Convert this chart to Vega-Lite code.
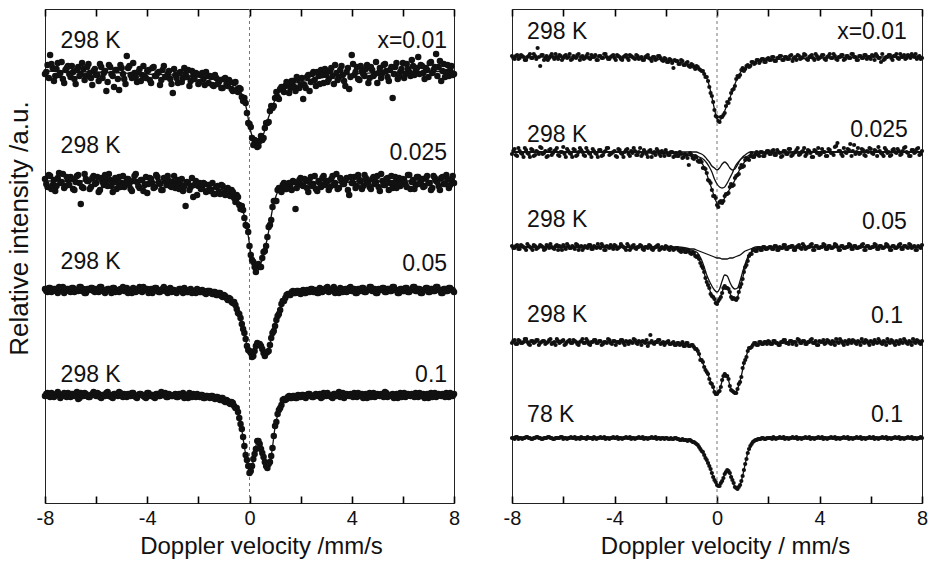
{
"$schema":"https://vega.github.io/schema/vega-lite/v6.json",
"padding":{"left":5,"top":7,"right":5,"bottom":4},
"bounds":"flush",
"spacing":58,
"config":{"view":{"stroke":"#222","strokeWidth":1},"font":"Liberation Sans","axis":{"labelFont":"Liberation Sans","titleFont":"Liberation Sans","labelColor":"#111","titleColor":"#111","titleFontWeight":"normal","grid":false,"domain":false}},
"datasets":{
"pts":[
{"v":-8.0,"a":429,"b":324,"c":214,"d":107,"e":447,"f":349,"g":257,"h":160,"i":65},
{"v":-7.9,"a":438,"b":316,"c":211,"d":110,"e":444,"f":354,"g":255,"h":163,"i":64},
{"v":-7.8,"a":448,"b":327,"c":215,"d":106,"e":448,"f":347,"g":258,"h":159,"i":66},
{"v":-7.7,"a":435,"b":318,"c":212,"d":109,"e":445,"f":352,"g":254,"h":162,"i":65},
{"v":-7.6,"a":427,"b":312,"c":214,"d":108,"e":447,"f":349,"g":257,"h":160,"i":64},
{"v":-7.5,"a":440,"b":325,"c":210,"d":111,"e":443,"f":355,"g":255,"h":164,"i":65},
{"v":-7.4,"a":430,"b":320,"c":213,"d":105,"e":446,"f":350,"g":259,"h":161,"i":66},
{"v":-7.3,"a":424,"b":329,"c":216,"d":108,"e":449,"f":346,"g":256,"h":158,"i":65},
{"v":-7.2,"a":433,"b":317,"c":212,"d":107,"e":445,"f":353,"g":253,"h":162,"i":64},
{"v":-7.1,"a":437,"b":323,"c":214,"d":110,"e":447,"f":348,"g":257,"h":161,"i":65},
{"v":-7.0,"a":426,"b":326,"c":211,"d":106,"e":455,"f":351,"g":255,"h":163,"i":66},
{"v":-6.9,"a":431,"b":314,"c":215,"d":109,"e":437,"f":356,"g":258,"h":160,"i":65},
{"v":-6.8,"a":419,"b":321,"c":213,"d":108,"e":448,"f":349,"g":256,"h":162,"i":64},
{"v":-6.7,"a":436,"b":328,"c":212,"d":104,"e":445,"f":352,"g":254,"h":159,"i":65},
{"v":-6.6,"a":429,"b":299,"c":216,"d":110,"e":443,"f":347,"g":257,"h":161,"i":66},
{"v":-6.5,"a":434,"b":315,"c":214,"d":107,"e":447,"f":354,"g":259,"h":164,"i":65},
{"v":-6.4,"a":427,"b":324,"c":210,"d":109,"e":446,"f":350,"g":255,"h":160,"i":64},
{"v":-6.3,"a":439,"b":322,"c":213,"d":106,"e":449,"f":353,"g":257,"h":158,"i":65},
{"v":-6.2,"a":425,"b":316,"c":215,"d":108,"e":444,"f":348,"g":253,"h":162,"i":65},
{"v":-6.1,"a":432,"b":327,"c":212,"d":111,"e":447,"f":351,"g":256,"h":161,"i":66},
{"v":-6.0,"a":428,"b":320,"c":214,"d":107,"e":445,"f":356,"g":258,"h":163,"i":64},
{"v":-5.9,"a":422,"b":311,"c":211,"d":109,"e":448,"f":346,"g":254,"h":159,"i":65},
{"v":-5.8,"a":436,"b":325,"c":216,"d":105,"e":446,"f":352,"g":257,"h":162,"i":65},
{"v":-5.7,"a":430,"b":318,"c":213,"d":108,"e":443,"f":349,"g":255,"h":160,"i":66},
{"v":-5.6,"a":412,"b":323,"c":212,"d":110,"e":447,"f":354,"g":256,"h":163,"i":65},
{"v":-5.5,"a":438,"b":329,"c":214,"d":107,"e":445,"f":347,"g":259,"h":161,"i":64},
{"v":-5.4,"a":429,"b":317,"c":210,"d":106,"e":449,"f":351,"g":253,"h":158,"i":65},
{"v":-5.3,"a":416,"b":321,"c":215,"d":109,"e":446,"f":353,"g":257,"h":162,"i":66},
{"v":-5.2,"a":433,"b":314,"c":213,"d":108,"e":444,"f":348,"g":255,"h":160,"i":65},
{"v":-5.1,"a":413,"b":326,"c":211,"d":111,"e":447,"f":355,"g":256,"h":164,"i":64},
{"v":-5.0,"a":435,"b":320,"c":214,"d":107,"e":445,"f":350,"g":258,"h":159,"i":65},
{"v":-4.9,"a":424,"b":316,"c":212,"d":109,"e":448,"f":346,"g":254,"h":161,"i":65},
{"v":-4.8,"a":447,"b":324,"c":215,"d":106,"e":446,"f":352,"g":257,"h":163,"i":66},
{"v":-4.7,"a":437,"b":319,"c":213,"d":108,"e":443,"f":349,"g":255,"h":160,"i":64},
{"v":-4.6,"a":425,"b":312,"c":210,"d":110,"e":447,"f":353,"g":256,"h":162,"i":65},
{"v":-4.5,"a":430,"b":327,"c":214,"d":107,"e":445,"f":347,"g":259,"h":158,"i":65},
{"v":-4.4,"a":421,"b":321,"c":212,"d":105,"e":449,"f":351,"g":253,"h":161,"i":66},
{"v":-4.3,"a":434,"b":315,"c":216,"d":109,"e":446,"f":355,"g":257,"h":160,"i":65},
{"v":-4.2,"a":428,"b":323,"c":211,"d":108,"e":444,"f":348,"g":255,"h":163,"i":64},
{"v":-4.1,"a":426,"b":318,"c":213,"d":106,"e":447,"f":350,"g":256,"h":159,"i":65},
{"v":-4.0,"a":432,"b":310,"c":214,"d":110,"e":445,"f":352,"g":258,"h":162,"i":65},
{"v":-3.9,"a":423,"b":325,"c":212,"d":107,"e":448,"f":346,"g":254,"h":161,"i":66},
{"v":-3.8,"a":435,"b":320,"c":210,"d":108,"e":446,"f":353,"g":256,"h":160,"i":65},
{"v":-3.7,"a":427,"b":316,"c":215,"d":105,"e":443,"f":349,"g":257,"h":163,"i":64},
{"v":-3.6,"a":430,"b":326,"c":213,"d":109,"e":447,"f":351,"g":255,"h":158,"i":65},
{"v":-3.5,"a":418,"b":319,"c":211,"d":107,"e":445,"f":354,"g":259,"h":161,"i":65},
{"v":-3.4,"a":433,"b":313,"c":214,"d":108,"e":448,"f":347,"g":253,"h":162,"i":66},
{"v":-3.3,"a":426,"b":322,"c":212,"d":110,"e":446,"f":350,"g":257,"h":160,"i":65},
{"v":-3.2,"a":429,"b":327,"c":210,"d":106,"e":444,"f":352,"g":255,"h":163,"i":64},
{"v":-3.1,"a":424,"b":317,"c":215,"d":108,"e":447,"f":348,"g":256,"h":159,"i":65},
{"v":-3.0,"a":410,"b":321,"c":213,"d":107,"e":445,"f":355,"g":258,"h":161,"i":65},
{"v":-2.9,"a":428,"b":315,"c":211,"d":109,"e":443,"f":349,"g":254,"h":162,"i":66},
{"v":-2.8,"a":420,"b":323,"c":212,"d":106,"e":446,"f":351,"g":256,"h":160,"i":65},
{"v":-2.7,"a":431,"b":318,"c":214,"d":108,"e":448,"f":346,"g":255,"h":157,"i":64},
{"v":-2.6,"a":425,"b":312,"c":210,"d":110,"e":444,"f":353,"g":257,"h":168,"i":65},
{"v":-2.5,"a":429,"b":297,"c":213,"d":107,"e":446,"f":350,"g":253,"h":160,"i":65},
{"v":-2.4,"a":433,"b":320,"c":211,"d":105,"e":443,"f":348,"g":256,"h":161,"i":66},
{"v":-2.3,"a":422,"b":316,"c":214,"d":108,"e":447,"f":352,"g":258,"h":163,"i":65},
{"v":-2.2,"a":427,"b":306,"c":212,"d":109,"e":445,"f":347,"g":254,"h":159,"i":64},
{"v":-2.1,"a":430,"b":322,"c":210,"d":106,"e":442,"f":350,"g":255,"h":161,"i":65},
{"v":-2.0,"a":419,"b":317,"c":213,"d":107,"e":444,"f":353,"g":257,"h":160,"i":65},
{"v":-1.9,"a":428,"b":314,"c":211,"d":108,"e":441,"f":348,"g":254,"h":162,"i":64},
{"v":-1.8,"a":424,"b":320,"c":212,"d":105,"e":443,"f":351,"g":256,"h":159,"i":65},
{"v":-1.7,"a":431,"b":311,"c":209,"d":107,"e":435,"f":346,"g":253,"h":161,"i":64},
{"v":-1.6,"a":420,"b":318,"c":212,"d":106,"e":442,"f":350,"g":255,"h":158,"i":65},
{"v":-1.5,"a":426,"b":313,"c":210,"d":107,"e":439,"f":347,"g":253,"h":160,"i":64},
{"v":-1.4,"a":417,"b":309,"c":211,"d":105,"e":443,"f":349,"g":251,"h":159,"i":63},
{"v":-1.3,"a":425,"b":316,"c":208,"d":106,"e":438,"f":346,"g":254,"h":157,"i":63},
{"v":-1.2,"a":421,"b":311,"c":210,"d":104,"e":440,"f":348,"g":251,"h":160,"i":63},
{"v":-1.1,"a":415,"b":318,"c":207,"d":105,"e":437,"f":338,"g":252,"h":157,"i":63},
{"v":-1.0,"a":424,"b":310,"c":208,"d":102,"e":439,"f":348,"g":249,"h":158,"i":62},
{"v":-0.9,"a":419,"b":314,"c":205,"d":103,"e":436,"f":344,"g":250,"h":156,"i":61},
{"v":-0.8,"a":423,"b":308,"c":205,"d":100,"e":437,"f":346,"g":246,"h":154,"i":59},
{"v":-0.7,"a":414,"b":313,"c":201,"d":101,"e":434,"f":341,"g":244,"h":149,"i":56},
{"v":-0.6,"a":420,"b":305,"c":201,"d":97,"e":432,"f":341,"g":237,"h":143,"i":52},
{"v":-0.5,"a":413,"b":308,"c":194,"d":95,"e":429,"f":335,"g":231,"h":136,"i":48},
{"v":-0.4,"a":415,"b":298,"c":189,"d":85,"e":426,"f":330,"g":221,"h":131,"i":43},
{"v":-0.3,"a":406,"b":297,"c":179,"d":74,"e":416,"f":322,"g":215,"h":124,"i":37},
{"v":-0.2,"a":405,"b":285,"c":170,"d":57,"e":407,"f":313,"g":207,"h":119,"i":30},
{"v":-0.1,"a":390,"b":277,"c":157,"d":43,"e":393,"f":307,"g":204,"h":111,"i":23},
{"v":0.0,"a":379,"b":257,"c":152,"d":30,"e":386,"f":298,"g":199,"h":109,"i":18},
{"v":0.1,"a":365,"b":243,"c":146,"d":37,"e":381,"f":301,"g":204,"h":112,"i":17},
{"v":0.2,"a":363,"b":236,"c":152,"d":49,"e":386,"f":300,"g":210,"h":123,"i":22},
{"v":0.3,"a":356,"b":238,"c":160,"d":62,"e":390,"f":307,"g":217,"h":129,"i":29},
{"v":0.4,"a":362,"b":236,"c":159,"d":59,"e":401,"f":309,"g":215,"h":127,"i":33},
{"v":0.5,"a":363,"b":245,"c":154,"d":50,"e":404,"f":316,"g":211,"h":117,"i":30},
{"v":0.6,"a":375,"b":252,"c":147,"d":41,"e":413,"f":317,"g":204,"h":112,"i":23},
{"v":0.7,"a":380,"b":266,"c":151,"d":35,"e":417,"f":325,"g":204,"h":110,"i":16},
{"v":0.8,"a":392,"b":278,"c":158,"d":41,"e":427,"f":328,"g":205,"h":114,"i":14},
{"v":0.9,"a":395,"b":296,"c":170,"d":55,"e":428,"f":335,"g":216,"h":121,"i":18},
{"v":1.0,"a":405,"b":302,"c":177,"d":77,"e":435,"f":336,"g":224,"h":135,"i":27},
{"v":1.1,"a":406,"b":313,"c":187,"d":89,"e":434,"f":343,"g":236,"h":143,"i":39},
{"v":1.2,"a":414,"b":313,"c":193,"d":95,"e":438,"f":344,"g":242,"h":152,"i":50},
{"v":1.3,"a":413,"b":318,"c":202,"d":103,"e":437,"f":347,"g":249,"h":155,"i":57},
{"v":1.4,"a":417,"b":314,"c":205,"d":103,"e":441,"f":346,"g":253,"h":158,"i":61},
{"v":1.5,"a":419,"b":319,"c":209,"d":106,"e":440,"f":349,"g":252,"h":160,"i":63},
{"v":1.6,"a":415,"b":316,"c":208,"d":105,"e":443,"f":348,"g":255,"h":158,"i":64},
{"v":1.7,"a":422,"b":322,"c":212,"d":107,"e":442,"f":351,"g":253,"h":161,"i":64},
{"v":1.8,"a":412,"b":294,"c":210,"d":105,"e":444,"f":347,"g":256,"h":159,"i":65},
{"v":1.9,"a":424,"b":320,"c":212,"d":108,"e":441,"f":350,"g":254,"h":161,"i":64},
{"v":2.0,"a":418,"b":325,"c":209,"d":106,"e":445,"f":352,"g":255,"h":162,"i":65},
{"v":2.1,"a":404,"b":317,"c":213,"d":108,"e":443,"f":349,"g":256,"h":159,"i":65},
{"v":2.2,"a":415,"b":323,"c":210,"d":105,"e":446,"f":353,"g":254,"h":162,"i":66},
{"v":2.3,"a":428,"b":311,"c":212,"d":109,"e":442,"f":348,"g":257,"h":160,"i":64},
{"v":2.4,"a":421,"b":326,"c":214,"d":107,"e":445,"f":351,"g":253,"h":158,"i":65},
{"v":2.5,"a":431,"b":319,"c":211,"d":106,"e":447,"f":346,"g":255,"h":161,"i":65},
{"v":2.6,"a":417,"b":314,"c":213,"d":109,"e":443,"f":352,"g":258,"h":163,"i":66},
{"v":2.7,"a":427,"b":322,"c":210,"d":108,"e":446,"f":349,"g":254,"h":160,"i":65},
{"v":2.8,"a":433,"b":316,"c":214,"d":105,"e":444,"f":354,"g":256,"h":159,"i":64},
{"v":2.9,"a":420,"b":327,"c":212,"d":110,"e":448,"f":347,"g":257,"h":162,"i":65},
{"v":3.0,"a":429,"b":321,"c":215,"d":107,"e":445,"f":350,"g":253,"h":161,"i":65},
{"v":3.1,"a":424,"b":313,"c":211,"d":108,"e":443,"f":353,"g":256,"h":158,"i":66},
{"v":3.2,"a":435,"b":324,"c":213,"d":106,"e":447,"f":348,"g":258,"h":163,"i":65},
{"v":3.3,"a":419,"b":318,"c":216,"d":109,"e":445,"f":351,"g":254,"h":160,"i":64},
{"v":3.4,"a":430,"b":329,"c":212,"d":107,"e":449,"f":355,"g":257,"h":162,"i":65},
{"v":3.5,"a":426,"b":315,"c":210,"d":111,"e":444,"f":349,"g":255,"h":159,"i":65},
{"v":3.6,"a":437,"b":322,"c":214,"d":108,"e":446,"f":352,"g":256,"h":161,"i":66},
{"v":3.7,"a":422,"b":319,"c":213,"d":105,"e":448,"f":346,"g":259,"h":164,"i":65},
{"v":3.8,"a":431,"b":325,"c":211,"d":109,"e":443,"f":353,"g":253,"h":160,"i":64},
{"v":3.9,"a":414,"b":308,"c":215,"d":107,"e":447,"f":350,"g":257,"h":158,"i":65},
{"v":4.0,"a":448,"b":320,"c":212,"d":108,"e":445,"f":348,"g":255,"h":162,"i":65},
{"v":4.1,"a":428,"b":326,"c":214,"d":110,"e":448,"f":354,"g":256,"h":161,"i":66},
{"v":4.2,"a":436,"b":317,"c":210,"d":106,"e":444,"f":351,"g":258,"h":159,"i":65},
{"v":4.3,"a":423,"b":323,"c":213,"d":108,"e":446,"f":347,"g":254,"h":163,"i":64},
{"v":4.4,"a":432,"b":314,"c":215,"d":109,"e":449,"f":353,"g":257,"h":160,"i":65},
{"v":4.5,"a":427,"b":328,"c":211,"d":107,"e":445,"f":350,"g":255,"h":162,"i":65},
{"v":4.6,"a":438,"b":321,"c":213,"d":105,"e":447,"f":356,"g":259,"h":158,"i":66},
{"v":4.7,"a":425,"b":316,"c":216,"d":110,"e":443,"f":360,"g":256,"h":161,"i":65},
{"v":4.8,"a":433,"b":324,"c":212,"d":108,"e":446,"f":352,"g":253,"h":164,"i":64},
{"v":4.9,"a":429,"b":319,"c":214,"d":106,"e":448,"f":347,"g":257,"h":160,"i":65},
{"v":5.0,"a":420,"b":327,"c":210,"d":109,"e":444,"f":351,"g":255,"h":162,"i":65},
{"v":5.1,"a":435,"b":312,"c":213,"d":107,"e":447,"f":354,"g":256,"h":159,"i":66},
{"v":5.2,"a":430,"b":322,"c":215,"d":108,"e":445,"f":359,"g":258,"h":161,"i":65},
{"v":5.3,"a":439,"b":318,"c":211,"d":111,"e":449,"f":352,"g":254,"h":163,"i":64},
{"v":5.4,"a":426,"b":325,"c":214,"d":106,"e":446,"f":349,"g":257,"h":160,"i":65},
{"v":5.5,"a":433,"b":320,"c":212,"d":108,"e":443,"f":355,"g":255,"h":162,"i":65},
{"v":5.6,"a":405,"b":315,"c":216,"d":109,"e":447,"f":350,"g":256,"h":158,"i":66},
{"v":5.7,"a":436,"b":326,"c":213,"d":107,"e":445,"f":353,"g":259,"h":161,"i":65},
{"v":5.8,"a":424,"b":321,"c":210,"d":105,"e":448,"f":347,"g":253,"h":163,"i":64},
{"v":5.9,"a":431,"b":317,"c":214,"d":110,"e":446,"f":351,"g":257,"h":160,"i":65},
{"v":6.0,"a":440,"b":324,"c":212,"d":108,"e":444,"f":354,"g":255,"h":162,"i":65},
{"v":6.1,"a":429,"b":319,"c":215,"d":106,"e":447,"f":349,"g":256,"h":159,"i":66},
{"v":6.2,"a":434,"b":328,"c":211,"d":109,"e":449,"f":352,"g":258,"h":161,"i":65},
{"v":6.3,"a":427,"b":314,"c":213,"d":107,"e":445,"f":356,"g":254,"h":164,"i":64},
{"v":6.4,"a":437,"b":323,"c":216,"d":108,"e":441,"f":350,"g":257,"h":160,"i":65},
{"v":6.5,"a":432,"b":318,"c":212,"d":110,"e":443,"f":347,"g":255,"h":162,"i":65},
{"v":6.6,"a":446,"b":326,"c":214,"d":106,"e":446,"f":353,"g":259,"h":158,"i":66},
{"v":6.7,"a":438,"b":321,"c":210,"d":108,"e":448,"f":351,"g":256,"h":161,"i":65},
{"v":6.8,"a":430,"b":316,"c":213,"d":109,"e":445,"f":348,"g":253,"h":163,"i":64},
{"v":6.9,"a":435,"b":325,"c":215,"d":107,"e":447,"f":354,"g":257,"h":160,"i":65},
{"v":7.0,"a":426,"b":320,"c":211,"d":105,"e":449,"f":350,"g":255,"h":162,"i":65},
{"v":7.1,"a":441,"b":313,"c":214,"d":110,"e":444,"f":352,"g":258,"h":159,"i":66},
{"v":7.2,"a":433,"b":327,"c":212,"d":108,"e":446,"f":349,"g":254,"h":161,"i":65},
{"v":7.3,"a":449,"b":322,"c":216,"d":106,"e":448,"f":355,"g":257,"h":164,"i":64},
{"v":7.4,"a":436,"b":317,"c":213,"d":109,"e":445,"f":351,"g":256,"h":160,"i":65},
{"v":7.5,"a":422,"b":325,"c":210,"d":107,"e":447,"f":347,"g":259,"h":162,"i":65},
{"v":7.6,"a":439,"b":319,"c":214,"d":108,"e":449,"f":353,"g":255,"h":158,"i":66},
{"v":7.7,"a":431,"b":328,"c":212,"d":110,"e":446,"f":350,"g":257,"h":161,"i":65},
{"v":7.8,"a":427,"b":315,"c":215,"d":106,"e":444,"f":354,"g":253,"h":163,"i":64},
{"v":7.9,"a":437,"b":323,"c":213,"d":108,"e":447,"f":348,"g":256,"h":160,"i":65},
{"v":8.0,"a":429,"b":320,"c":211,"d":109,"e":445,"f":352,"g":258,"h":162,"i":65},
{"v":-7.95,"a":431,"b":319,"c":212,"d":109,"e":445,"f":352,"g":255,"h":162,"i":65},
{"v":-7.85,"a":425,"b":328,"c":215,"d":107,"e":447,"f":348,"g":257,"h":159,"i":66},
{"v":-7.75,"a":439,"b":314,"c":211,"d":110,"e":444,"f":355,"g":254,"h":163,"i":64},
{"v":-7.65,"a":422,"b":323,"c":214,"d":106,"e":448,"f":350,"g":258,"h":160,"i":65},
{"v":-7.55,"a":434,"b":317,"c":212,"d":108,"e":446,"f":346,"g":256,"h":161,"i":65},
{"v":-7.45,"a":428,"b":330,"c":216,"d":109,"e":443,"f":353,"g":253,"h":164,"i":66},
{"v":-7.35,"a":441,"b":321,"c":213,"d":107,"e":447,"f":349,"g":257,"h":159,"i":65},
{"v":-7.25,"a":420,"b":315,"c":210,"d":110,"e":445,"f":354,"g":255,"h":162,"i":64},
{"v":-7.15,"a":435,"b":326,"c":214,"d":106,"e":449,"f":347,"g":258,"h":160,"i":65},
{"v":-7.05,"a":429,"b":318,"c":212,"d":108,"e":444,"f":352,"g":254,"h":163,"i":66},
{"v":-6.95,"a":437,"b":324,"c":215,"d":109,"e":446,"f":349,"g":256,"h":158,"i":65},
{"v":-6.85,"a":424,"b":313,"c":211,"d":107,"e":448,"f":355,"g":257,"h":161,"i":64},
{"v":-6.75,"a":433,"b":327,"c":213,"d":111,"e":443,"f":350,"g":253,"h":162,"i":65},
{"v":-6.65,"a":427,"b":320,"c":216,"d":105,"e":447,"f":346,"g":258,"h":160,"i":65},
{"v":-6.55,"a":440,"b":316,"c":212,"d":108,"e":445,"f":353,"g":255,"h":163,"i":66},
{"v":-6.45,"a":423,"b":329,"c":210,"d":110,"e":449,"f":348,"g":256,"h":159,"i":65},
{"v":-6.35,"a":436,"b":322,"c":214,"d":107,"e":444,"f":352,"g":254,"h":161,"i":64},
{"v":-6.25,"a":430,"b":314,"c":213,"d":106,"e":446,"f":355,"g":258,"h":164,"i":65},
{"v":-6.15,"a":418,"b":325,"c":215,"d":109,"e":448,"f":347,"g":257,"h":160,"i":65},
{"v":-6.05,"a":434,"b":319,"c":211,"d":108,"e":443,"f":351,"g":253,"h":162,"i":66},
{"v":-5.95,"a":428,"b":326,"c":213,"d":110,"e":447,"f":349,"g":256,"h":158,"i":65},
{"v":-5.85,"a":439,"b":313,"c":216,"d":106,"e":445,"f":354,"g":259,"h":161,"i":64},
{"v":-5.75,"a":425,"b":321,"c":212,"d":108,"e":449,"f":350,"g":255,"h":163,"i":65},
{"v":-5.65,"a":432,"b":328,"c":210,"d":107,"e":444,"f":346,"g":257,"h":160,"i":65},
{"v":-5.55,"a":421,"b":317,"c":214,"d":111,"e":446,"f":353,"g":254,"h":162,"i":66},
{"v":-5.45,"a":436,"b":323,"c":213,"d":108,"e":448,"f":348,"g":258,"h":159,"i":65},
{"v":-5.35,"a":427,"b":311,"c":215,"d":105,"e":443,"f":355,"g":256,"h":161,"i":64},
{"v":-5.25,"a":433,"b":325,"c":211,"d":109,"e":447,"f":351,"g":253,"h":164,"i":65},
{"v":-5.15,"a":424,"b":320,"c":212,"d":107,"e":445,"f":347,"g":257,"h":160,"i":65},
{"v":-5.05,"a":438,"b":316,"c":214,"d":110,"e":449,"f":352,"g":255,"h":162,"i":66},
{"v":-4.95,"a":429,"b":327,"c":216,"d":106,"e":444,"f":349,"g":258,"h":158,"i":65},
{"v":-4.85,"a":419,"b":318,"c":212,"d":108,"e":446,"f":354,"g":254,"h":161,"i":64},
{"v":-4.75,"a":435,"b":324,"c":210,"d":109,"e":448,"f":350,"g":256,"h":163,"i":65},
{"v":-4.65,"a":428,"b":314,"c":213,"d":107,"e":443,"f":346,"g":259,"h":160,"i":65},
{"v":-4.55,"a":440,"b":322,"c":215,"d":110,"e":447,"f":353,"g":255,"h":162,"i":66},
{"v":-4.45,"a":426,"b":329,"c":211,"d":106,"e":445,"f":348,"g":257,"h":159,"i":65},
{"v":-4.35,"a":431,"b":317,"c":214,"d":108,"e":449,"f":352,"g":253,"h":161,"i":64},
{"v":-4.25,"a":422,"b":323,"c":212,"d":109,"e":444,"f":355,"g":256,"h":164,"i":65},
{"v":-4.15,"a":437,"b":312,"c":216,"d":107,"e":446,"f":349,"g":258,"h":160,"i":65},
{"v":-4.05,"a":425,"b":326,"c":213,"d":105,"e":448,"f":351,"g":254,"h":162,"i":66},
{"v":-3.95,"a":433,"b":319,"c":210,"d":110,"e":443,"f":347,"g":257,"h":158,"i":65},
{"v":-3.85,"a":420,"b":324,"c":214,"d":108,"e":447,"f":354,"g":255,"h":161,"i":64},
{"v":-3.75,"a":436,"b":315,"c":212,"d":106,"e":444,"f":350,"g":259,"h":163,"i":65},
{"v":-3.65,"a":427,"b":328,"c":215,"d":109,"e":446,"f":346,"g":256,"h":160,"i":65},
{"v":-3.55,"a":431,"b":321,"c":211,"d":107,"e":448,"f":353,"g":253,"h":162,"i":66},
{"v":-3.45,"a":423,"b":313,"c":213,"d":111,"e":443,"f":349,"g":257,"h":159,"i":65},
{"v":-3.35,"a":437,"b":325,"c":216,"d":108,"e":447,"f":352,"g":255,"h":161,"i":64},
{"v":-3.25,"a":426,"b":318,"c":212,"d":106,"e":445,"f":355,"g":258,"h":164,"i":65},
{"v":-3.15,"a":432,"b":322,"c":214,"d":109,"e":448,"f":348,"g":254,"h":160,"i":65},
{"v":-3.05,"a":419,"b":316,"c":211,"d":107,"e":444,"f":351,"g":256,"h":162,"i":66},
{"v":-2.95,"a":434,"b":327,"c":213,"d":108,"e":446,"f":347,"g":257,"h":158,"i":65},
{"v":-2.85,"a":425,"b":319,"c":210,"d":106,"e":443,"f":353,"g":253,"h":161,"i":64},
{"v":-2.75,"a":430,"b":314,"c":214,"d":109,"e":447,"f":349,"g":256,"h":163,"i":65},
{"v":-2.65,"a":421,"b":324,"c":212,"d":107,"e":445,"f":352,"g":258,"h":160,"i":65},
{"v":-2.55,"a":435,"b":317,"c":215,"d":105,"e":442,"f":346,"g":254,"h":162,"i":66},
{"v":-2.45,"a":426,"b":321,"c":211,"d":108,"e":446,"f":351,"g":255,"h":159,"i":65},
{"v":-2.35,"a":417,"b":313,"c":213,"d":110,"e":444,"f":354,"g":257,"h":161,"i":64},
{"v":-2.25,"a":432,"b":325,"c":210,"d":106,"e":447,"f":349,"g":253,"h":163,"i":65},
{"v":-2.15,"a":424,"b":318,"c":212,"d":107,"e":443,"f":352,"g":256,"h":160,"i":65},
{"v":-2.05,"a":429,"b":308,"c":214,"d":109,"e":445,"f":347,"g":254,"h":158,"i":64},
{"v":-1.95,"a":421,"b":320,"c":211,"d":106,"e":441,"f":350,"g":256,"h":161,"i":65},
{"v":-1.85,"a":430,"b":315,"c":213,"d":108,"e":444,"f":348,"g":253,"h":159,"i":64},
{"v":-1.75,"a":418,"b":319,"c":210,"d":105,"e":440,"f":351,"g":255,"h":160,"i":64},
{"v":-1.65,"a":427,"b":312,"c":212,"d":107,"e":443,"f":347,"g":254,"h":158,"i":65},
{"v":-1.55,"a":427,"b":312,"c":212,"d":105,"e":442,"f":347,"g":255,"h":160,"i":64},
{"v":-1.45,"a":418,"b":320,"c":209,"d":107,"e":439,"f":351,"g":252,"h":158,"i":63},
{"v":-1.35,"a":428,"b":309,"c":211,"d":104,"e":442,"f":345,"g":254,"h":161,"i":64},
{"v":-1.25,"a":419,"b":317,"c":208,"d":106,"e":438,"f":349,"g":251,"h":157,"i":63},
{"v":-1.15,"a":423,"b":309,"c":210,"d":103,"e":441,"f":345,"g":253,"h":160,"i":62},
{"v":-1.05,"a":415,"b":317,"c":206,"d":105,"e":436,"f":350,"g":250,"h":157,"i":63},
{"v":-0.95,"a":425,"b":308,"c":207,"d":101,"e":438,"f":345,"g":251,"h":158,"i":61},
{"v":-0.85,"a":417,"b":315,"c":203,"d":102,"e":434,"f":347,"g":247,"h":154,"i":60},
{"v":-0.75,"a":421,"b":307,"c":204,"d":99,"e":436,"f":342,"g":247,"h":152,"i":58},
{"v":-0.65,"a":412,"b":311,"c":200,"d":100,"e":433,"f":343,"g":240,"h":143,"i":54},
{"v":-0.55,"a":421,"b":301,"c":198,"d":95,"e":432,"f":335,"g":235,"h":141,"i":51},
{"v":-0.45,"a":411,"b":306,"c":190,"d":91,"e":426,"f":334,"g":225,"h":133,"i":45},
{"v":-0.35,"a":414,"b":294,"c":185,"d":79,"e":422,"f":323,"g":218,"h":129,"i":40},
{"v":-0.25,"a":402,"b":293,"c":174,"d":66,"e":410,"f":320,"g":209,"h":120,"i":34},
{"v":-0.15,"a":400,"b":278,"c":164,"d":48,"e":401,"f":307,"g":206,"h":116,"i":26},
{"v":-0.05,"a":380,"b":271,"c":153,"d":37,"e":387,"f":305,"g":200,"h":109,"i":21},
{"v":0.05,"a":376,"b":248,"c":150,"d":32,"e":382,"f":296,"g":202,"h":111,"i":17},
{"v":0.15,"a":358,"b":241,"c":147,"d":44,"e":386,"f":302,"g":206,"h":116,"i":20},
{"v":0.25,"a":362,"b":231,"c":157,"d":54,"e":388,"f":302,"g":215,"h":127,"i":25},
{"v":0.35,"a":357,"b":239,"c":159,"d":62,"e":397,"f":309,"g":215,"h":127,"i":31},
{"v":0.45,"a":367,"b":236,"c":157,"d":54,"e":400,"f":310,"g":214,"h":124,"i":32},
{"v":0.55,"a":365,"b":251,"c":150,"d":46,"e":410,"f":319,"g":206,"h":113,"i":26},
{"v":0.65,"a":380,"b":257,"c":150,"d":37,"e":414,"f":318,"g":205,"h":111,"i":20},
{"v":0.75,"a":381,"b":276,"c":152,"d":39,"e":424,"f":327,"g":203,"h":110,"i":15},
{"v":0.85,"a":397,"b":283,"c":165,"d":47,"e":426,"f":329,"g":211,"h":119,"i":16},
{"v":0.95,"a":397,"b":302,"c":172,"d":67,"e":433,"f":338,"g":219,"h":126,"i":22},
{"v":1.05,"a":411,"b":302,"c":183,"d":81,"e":432,"f":337,"g":231,"h":140,"i":33},
{"v":1.15,"a":404,"b":315,"c":189,"d":93,"e":437,"f":345,"g":238,"h":146,"i":44},
{"v":1.25,"a":416,"b":311,"c":199,"d":98,"e":436,"f":343,"g":247,"h":155,"i":54},
{"v":1.35,"a":411,"b":320,"c":202,"d":104,"e":441,"f":350,"g":249,"h":156,"i":59},
{"v":1.45,"a":421,"b":314,"c":208,"d":104,"e":439,"f":346,"g":254,"h":160,"i":62},
{"v":1.55,"a":410,"b":320,"c":208,"d":107,"e":443,"f":351,"g":252,"h":158,"i":63},
{"v":1.65,"a":422,"b":313,"c":211,"d":105,"e":440,"f":347,"g":255,"h":161,"i":64},
{"v":1.75,"a":416,"b":321,"c":210,"d":107,"e":444,"f":351,"g":253,"h":159,"i":65},
{"v":1.85,"a":426,"b":315,"c":212,"d":105,"e":441,"f":347,"g":256,"h":161,"i":64},
{"v":1.95,"a":415,"b":323,"c":210,"d":107,"e":444,"f":352,"g":254,"h":159,"i":65},
{"v":2.05,"a":425,"b":318,"c":212,"d":108,"e":443,"f":349,"g":256,"h":161,"i":65},
{"v":2.15,"a":418,"b":324,"c":210,"d":106,"e":446,"f":352,"g":254,"h":159,"i":64},
{"v":2.25,"a":426,"b":315,"c":213,"d":108,"e":442,"f":348,"g":257,"h":162,"i":65},
{"v":2.35,"a":412,"b":321,"c":211,"d":109,"e":445,"f":353,"g":253,"h":160,"i":65},
{"v":2.45,"a":429,"b":317,"c":214,"d":106,"e":447,"f":350,"g":256,"h":158,"i":66},
{"v":2.55,"a":423,"b":327,"c":212,"d":108,"e":443,"f":347,"g":255,"h":161,"i":65},
{"v":2.65,"a":431,"b":312,"c":210,"d":107,"e":446,"f":352,"g":258,"h":163,"i":64},
{"v":2.75,"a":419,"b":320,"c":215,"d":109,"e":444,"f":349,"g":254,"h":160,"i":65},
{"v":2.85,"a":428,"b":325,"c":211,"d":106,"e":447,"f":354,"g":256,"h":162,"i":65},
{"v":2.95,"a":434,"b":318,"c":213,"d":108,"e":442,"f":348,"g":257,"h":159,"i":66},
{"v":3.05,"a":421,"b":322,"c":216,"d":110,"e":446,"f":351,"g":253,"h":161,"i":65},
{"v":3.15,"a":432,"b":316,"c":212,"d":107,"e":448,"f":355,"g":257,"h":164,"i":64},
{"v":3.25,"a":427,"b":327,"c":214,"d":105,"e":444,"f":349,"g":255,"h":160,"i":65},
{"v":3.35,"a":438,"b":320,"c":210,"d":109,"e":446,"f":352,"g":259,"h":162,"i":65},
{"v":3.45,"a":423,"b":314,"c":213,"d":108,"e":448,"f":347,"g":254,"h":159,"i":66},
{"v":3.55,"a":433,"b":325,"c":215,"d":106,"e":443,"f":353,"g":256,"h":161,"i":65},
{"v":3.65,"a":428,"b":319,"c":211,"d":110,"e":447,"f":350,"g":258,"h":163,"i":64},
{"v":3.75,"a":417,"b":323,"c":214,"d":107,"e":445,"f":346,"g":253,"h":160,"i":65},
{"v":3.85,"a":435,"b":313,"c":212,"d":108,"e":449,"f":352,"g":257,"h":162,"i":65},
{"v":3.95,"a":426,"b":326,"c":216,"d":109,"e":444,"f":355,"g":255,"h":158,"i":66},
{"v":4.05,"a":439,"b":320,"c":213,"d":106,"e":446,"f":349,"g":256,"h":161,"i":65},
{"v":4.15,"a":431,"b":315,"c":210,"d":108,"e":448,"f":351,"g":259,"h":163,"i":64},
{"v":4.25,"a":424,"b":328,"c":214,"d":110,"e":443,"f":347,"g":254,"h":160,"i":65},
{"v":4.35,"a":437,"b":322,"c":212,"d":107,"e":447,"f":354,"g":257,"h":162,"i":65},
{"v":4.45,"a":429,"b":317,"c":215,"d":105,"e":445,"f":350,"g":255,"h":159,"i":66},
{"v":4.55,"a":434,"b":325,"c":211,"d":109,"e":449,"f":348,"g":256,"h":161,"i":65},
{"v":4.65,"a":420,"b":319,"c":213,"d":108,"e":444,"f":357,"g":258,"h":164,"i":64},
{"v":4.75,"a":436,"b":314,"c":216,"d":106,"e":446,"f":352,"g":253,"h":160,"i":65},
{"v":4.85,"a":427,"b":326,"c":212,"d":110,"e":448,"f":349,"g":257,"h":162,"i":65},
{"v":4.95,"a":441,"b":321,"c":210,"d":107,"e":443,"f":355,"g":255,"h":158,"i":66},
{"v":5.05,"a":430,"b":316,"c":214,"d":108,"e":447,"f":350,"g":256,"h":161,"i":65},
{"v":5.15,"a":425,"b":329,"c":213,"d":109,"e":445,"f":353,"g":259,"h":163,"i":64},
{"v":5.25,"a":438,"b":318,"c":215,"d":106,"e":449,"f":347,"g":254,"h":160,"i":65},
{"v":5.35,"a":432,"b":324,"c":211,"d":110,"e":446,"f":358,"g":257,"h":162,"i":65},
{"v":5.45,"a":422,"b":313,"c":214,"d":108,"e":443,"f":351,"g":255,"h":159,"i":66},
{"v":5.55,"a":436,"b":327,"c":212,"d":107,"e":447,"f":349,"g":256,"h":161,"i":65},
{"v":5.65,"a":429,"b":320,"c":216,"d":105,"e":445,"f":354,"g":258,"h":164,"i":64},
{"v":5.75,"a":440,"b":315,"c":213,"d":109,"e":448,"f":348,"g":253,"h":160,"i":65},
{"v":5.85,"a":427,"b":325,"c":210,"d":108,"e":444,"f":352,"g":257,"h":162,"i":65},
{"v":5.95,"a":434,"b":319,"c":214,"d":106,"e":446,"f":355,"g":255,"h":158,"i":66},
{"v":6.05,"a":425,"b":323,"c":212,"d":110,"e":448,"f":350,"g":256,"h":161,"i":65},
{"v":6.15,"a":439,"b":316,"c":215,"d":107,"e":443,"f":353,"g":259,"h":163,"i":64},
{"v":6.25,"a":431,"b":328,"c":211,"d":108,"e":447,"f":347,"g":254,"h":160,"i":65},
{"v":6.35,"a":443,"b":321,"c":213,"d":109,"e":445,"f":352,"g":257,"h":162,"i":65},
{"v":6.45,"a":428,"b":314,"c":216,"d":106,"e":449,"f":349,"g":255,"h":159,"i":66},
{"v":6.55,"a":435,"b":326,"c":212,"d":108,"e":444,"f":355,"g":256,"h":161,"i":65},
{"v":6.65,"a":429,"b":319,"c":214,"d":110,"e":446,"f":350,"g":258,"h":164,"i":64},
{"v":6.75,"a":437,"b":324,"c":210,"d":107,"e":448,"f":347,"g":253,"h":160,"i":65},
{"v":6.85,"a":424,"b":317,"c":213,"d":105,"e":443,"f":353,"g":257,"h":162,"i":65},
{"v":6.95,"a":433,"b":327,"c":215,"d":109,"e":447,"f":351,"g":255,"h":158,"i":66},
{"v":7.05,"a":440,"b":320,"c":211,"d":108,"e":445,"f":354,"g":256,"h":161,"i":65},
{"v":7.15,"a":430,"b":315,"c":214,"d":106,"e":449,"f":348,"g":259,"h":163,"i":64},
{"v":7.25,"a":436,"b":325,"c":212,"d":110,"e":446,"f":352,"g":254,"h":160,"i":65},
{"v":7.35,"a":427,"b":321,"c":216,"d":107,"e":444,"f":356,"g":257,"h":162,"i":65},
{"v":7.45,"a":442,"b":313,"c":213,"d":108,"e":448,"f":350,"g":255,"h":159,"i":66},
{"v":7.55,"a":432,"b":326,"c":210,"d":109,"e":445,"f":347,"g":258,"h":161,"i":65},
{"v":7.65,"a":426,"b":319,"c":214,"d":106,"e":447,"f":353,"g":256,"h":164,"i":64},
{"v":7.75,"a":438,"b":324,"c":212,"d":108,"e":449,"f":351,"g":253,"h":160,"i":65},
{"v":7.85,"a":433,"b":318,"c":215,"d":110,"e":446,"f":355,"g":257,"h":162,"i":65},
{"v":7.95,"a":428,"b":327,"c":213,"d":107,"e":444,"f":349,"g":255,"h":159,"i":66}
],
"fit":[
{"v":-8,"a":432,"b":322,"c":213,"d":108,"e":446,"f":351,"g":256,"h":161,"i":65,"p":351,"q":351,"r":256,"s":256},
{"v":-6,"a":431,"b":322,"c":213,"d":108,"e":446,"f":351,"g":256,"h":161,"i":65,"p":351,"q":351,"r":256,"s":256},
{"v":-4,"a":429,"b":321,"c":213,"d":108,"e":446,"f":351,"g":256,"h":161,"i":65,"p":351,"q":351,"r":256,"s":256},
{"v":-3,"a":428,"b":320,"c":213,"d":108,"e":445,"f":351,"g":256,"h":161,"i":65,"p":351,"q":351,"r":256,"s":256},
{"v":-2.5,"a":427,"b":320,"c":212,"d":107,"e":444,"f":350,"g":255,"h":160,"i":65,"p":351,"q":351,"r":256,"s":256},
{"v":-2,"a":426,"b":318,"c":211,"d":107,"e":443,"f":350,"g":255,"h":160,"i":65,"p":351,"q":350,"r":256,"s":255},
{"v":-1.5,"a":424,"b":316,"c":211,"d":106,"e":441,"f":349,"g":254,"h":160,"i":64,"p":351,"q":350,"r":256,"s":255},
{"v":-1.2,"a":423,"b":314,"c":209,"d":105,"e":439,"f":348,"g":252,"h":159,"i":63,"p":351,"q":349,"r":255,"s":254},
{"v":-1.0,"a":422,"b":313,"c":207,"d":103,"e":438,"f":347,"g":250,"h":158,"i":62,"p":351,"q":349,"r":254,"s":253},
{"v":-0.9,"a":421,"b":312,"c":206,"d":102,"e":437,"f":346,"g":249,"h":157,"i":61,"p":351,"q":348,"r":254,"s":252},
{"v":-0.8,"a":420,"b":311,"c":204,"d":101,"e":436,"f":345,"g":247,"h":153,"i":59,"p":351,"q":347,"r":253,"s":251},
{"v":-0.7,"a":419,"b":310,"c":202,"d":100,"e":435,"f":343,"g":244,"h":148,"i":56,"p":350,"q":346,"r":252,"s":248},
{"v":-0.6,"a":418,"b":308,"c":200,"d":98,"e":433,"f":340,"g":238,"h":142,"i":52,"p":349,"q":345,"r":251,"s":243},
{"v":-0.5,"a":416,"b":305,"c":195,"d":94,"e":430,"f":336,"g":230,"h":137,"i":48,"p":347,"q":343,"r":250,"s":236},
{"v":-0.4,"a":413,"b":301,"c":188,"d":86,"e":425,"f":329,"g":221,"h":131,"i":43,"p":344,"q":340,"r":249,"s":228},
{"v":-0.3,"a":409,"b":295,"c":180,"d":73,"e":417,"f":321,"g":214,"h":125,"i":37,"p":341,"q":336,"r":248,"s":222},
{"v":-0.2,"a":403,"b":287,"c":169,"d":56,"e":406,"f":314,"g":208,"h":118,"i":30,"p":337,"q":331,"r":247,"s":217},
{"v":-0.1,"a":392,"b":275,"c":158,"d":42,"e":394,"f":306,"g":203,"h":112,"i":23,"p":335,"q":324,"r":246,"s":213},
{"v":0.0,"a":377,"b":259,"c":151,"d":31,"e":384,"f":300,"g":200,"h":108,"i":18,"p":333,"q":319,"r":245,"s":211},
{"v":0.1,"a":367,"b":242,"c":147,"d":36,"e":382,"f":299,"g":203,"h":113,"i":17,"p":335,"q":316,"r":245,"s":214},
{"v":0.2,"a":361,"b":234,"c":151,"d":50,"e":386,"f":301,"g":211,"h":122,"i":22,"p":339,"q":315,"r":244,"s":222},
{"v":0.3,"a":358,"b":235,"c":161,"d":61,"e":392,"f":305,"g":217,"h":130,"i":29,"p":341,"q":316,"r":244,"s":228},
{"v":0.4,"a":360,"b":239,"c":160,"d":60,"e":399,"f":310,"g":216,"h":127,"i":33,"p":339,"q":320,"r":244,"s":227},
{"v":0.5,"a":365,"b":243,"c":153,"d":50,"e":405,"f":314,"g":210,"h":118,"i":30,"p":335,"q":325,"r":245,"s":221},
{"v":0.6,"a":373,"b":254,"c":148,"d":40,"e":412,"f":318,"g":205,"h":111,"i":23,"p":333,"q":330,"r":245,"s":216},
{"v":0.7,"a":382,"b":265,"c":150,"d":36,"e":419,"f":323,"g":203,"h":109,"i":16,"p":334,"q":336,"r":246,"s":214},
{"v":0.8,"a":390,"b":279,"c":159,"d":40,"e":425,"f":329,"g":206,"h":114,"i":14,"p":338,"q":340,"r":247,"s":215},
{"v":0.9,"a":397,"b":294,"c":169,"d":56,"e":430,"f":334,"g":215,"h":122,"i":18,"p":343,"q":343,"r":248,"s":222},
{"v":1.0,"a":403,"b":304,"c":178,"d":76,"e":433,"f":338,"g":225,"h":133,"i":27,"p":346,"q":345,"r":250,"s":231},
{"v":1.1,"a":408,"b":311,"c":186,"d":88,"e":435,"f":342,"g":235,"h":144,"i":39,"p":348,"q":346,"r":252,"s":239},
{"v":1.2,"a":412,"b":314,"c":194,"d":96,"e":437,"f":345,"g":243,"h":151,"i":50,"p":350,"q":347,"r":253,"s":246},
{"v":1.3,"a":414,"b":316,"c":201,"d":102,"e":438,"f":346,"g":249,"h":156,"i":57,"p":351,"q":348,"r":254,"s":250},
{"v":1.4,"a":416,"b":317,"c":206,"d":104,"e":440,"f":347,"g":252,"h":158,"i":61,"p":351,"q":348,"r":255,"s":253},
{"v":1.5,"a":417,"b":317,"c":208,"d":105,"e":441,"f":348,"g":253,"h":159,"i":63,"p":351,"q":349,"r":256,"s":254},
{"v":1.6,"a":418,"b":318,"c":209,"d":106,"e":442,"f":349,"g":254,"h":159,"i":64,"p":351,"q":349,"r":256,"s":254},
{"v":1.8,"a":420,"b":319,"c":211,"d":106,"e":443,"f":350,"g":255,"h":160,"i":65,"p":351,"q":350,"r":256,"s":255},
{"v":2.0,"a":421,"b":319,"c":211,"d":106,"e":443,"f":350,"g":255,"h":160,"i":65,"p":351,"q":350,"r":256,"s":255},
{"v":2.5,"a":424,"b":320,"c":212,"d":107,"e":444,"f":350,"g":255,"h":160,"i":65,"p":351,"q":351,"r":256,"s":256},
{"v":3.0,"a":426,"b":320,"c":212,"d":107,"e":444,"f":350,"g":255,"h":161,"i":65,"p":351,"q":351,"r":256,"s":256},
{"v":4.0,"a":429,"b":321,"c":213,"d":108,"e":445,"f":351,"g":256,"h":161,"i":65,"p":351,"q":351,"r":256,"s":256},
{"v":6.0,"a":431,"b":322,"c":213,"d":108,"e":446,"f":351,"g":256,"h":161,"i":65,"p":351,"q":351,"r":256,"s":256},
{"v":8.0,"a":432,"b":322,"c":213,"d":108,"e":446,"f":351,"g":256,"h":161,"i":65,"p":351,"q":351,"r":256,"s":256}
],
"lblL":[
{"p":"A","t":"298 K","v":-7.39,"y":462},
{"p":"A","t":"298 K","v":-7.39,"y":357},
{"p":"A","t":"298 K","v":-7.39,"y":241},
{"p":"A","t":"298 K","v":-7.39,"y":128},
{"p":"B","t":"298 K","v":-7.41,"y":471},
{"p":"B","t":"298 K","v":-7.41,"y":368},
{"p":"B","t":"298 K","v":-7.41,"y":283},
{"p":"B","t":"298 K","v":-7.41,"y":188},
{"p":"B","t":"78 K","v":-7.41,"y":88}
],
"lblR":[
{"p":"A","t":"x=0.01","v":7.73,"y":462},
{"p":"A","t":"0.025","v":7.73,"y":350},
{"p":"A","t":"0.05","v":7.73,"y":239},
{"p":"A","t":"0.1","v":7.73,"y":128},
{"p":"B","t":"x=0.01","v":7.41,"y":471},
{"p":"B","t":"0.025","v":7.45,"y":373},
{"p":"B","t":"0.05","v":7.41,"y":281},
{"p":"B","t":"0.1","v":7.26,"y":187},
{"p":"B","t":"0.1","v":7.26,"y":88}
]
},
"hconcat":[
{
"width":409,"height":494,
"resolve":{"axis":{"x":"independent","y":"independent"}},
"layer":[
{"data":{"values":[{}]},"mark":{"type":"rule","strokeDash":[3,3],"color":"#777","strokeWidth":1},"encoding":{"x":{"datum":0,"type":"quantitative","axis":null}}},
{"data":{"name":"pts"},"transform":[{"fold":["a","b","c","d"],"as":["s","y"]}],
"mark":{"type":"circle","size":42,"color":"#111","opacity":1},
"encoding":{
"x":{"field":"v","type":"quantitative","scale":{"domain":[-8,8],"nice":false},"axis":{"orient":"bottom","values":[-8,-6,-4,-2,0,2,4,6,8],"labelExpr":"datum.value % 4 === 0 ? '' + datum.value : ''","ticks":true,"tickSize":-7,"tickWidth":1.6,"tickColor":"#000","labelFontSize":20,"labelPadding":12,"labelFlush":false,"labelOverlap":false,"title":"Doppler velocity /mm/s","titleFontSize":24,"titlePadding":6,"titleX":216}},
"y":{"field":"y","type":"quantitative","scale":{"domain":[0,494],"nice":false,"zero":false},"axis":{"title":"Relative intensity /a.u.","labels":false,"ticks":false,"titleFontSize":26,"titlePadding":13,"titleY":219}}}},
{"data":{"name":"fit"},"transform":[{"fold":["a","b","c","d"],"as":["s","y"]}],
"mark":{"type":"line","interpolate":"monotone","color":"#111","strokeWidth":1.3},
"encoding":{
"x":{"field":"v","type":"quantitative","axis":{"orient":"top","values":[-8,-6,-4,-2,0,2,4,6,8],"labels":false,"ticks":true,"tickSize":-7,"tickWidth":1.6,"tickColor":"#000","title":null}},
"y":{"field":"y","type":"quantitative","axis":null},
"detail":{"field":"s"}}},
{"data":{"name":"lblL"},"transform":[{"filter":"datum.p === 'A'"}],
"mark":{"type":"text","align":"left","baseline":"middle","fontSize":23,"font":"Liberation Sans","color":"#111"},
"encoding":{"x":{"field":"v","type":"quantitative","axis":null},"y":{"field":"y","type":"quantitative","axis":null},"text":{"field":"t"}}},
{"data":{"name":"lblR"},"transform":[{"filter":"datum.p === 'A'"}],
"mark":{"type":"text","align":"right","baseline":"middle","fontSize":23,"font":"Liberation Sans","color":"#111"},
"encoding":{"x":{"field":"v","type":"quantitative","axis":null},"y":{"field":"y","type":"quantitative","axis":null},"text":{"field":"t"}}}
]
},
{
"width":410,"height":494,
"resolve":{"axis":{"x":"independent","y":"independent"}},
"layer":[
{"data":{"values":[{}]},"mark":{"type":"rule","strokeDash":[3,3],"color":"#777","strokeWidth":1},"encoding":{"x":{"datum":0,"type":"quantitative","axis":null}}},
{"data":{"name":"pts"},"transform":[{"fold":["e","f","g","h","i"],"as":["s","y"]}],
"mark":{"type":"circle","size":18,"color":"#111","opacity":1},
"encoding":{
"x":{"field":"v","type":"quantitative","scale":{"domain":[-8,8],"nice":false},"axis":{"orient":"bottom","values":[-8,-6,-4,-2,0,2,4,6,8],"labelExpr":"datum.value % 4 === 0 ? '' + datum.value : ''","ticks":true,"tickSize":-7,"tickWidth":1.6,"tickColor":"#000","labelFontSize":20,"labelPadding":12,"labelFlush":false,"labelOverlap":false,"title":"Doppler velocity / mm/s","titleFontSize":24,"titlePadding":6,"titleX":213}},
"y":{"field":"y","type":"quantitative","scale":{"domain":[0,494],"nice":false,"zero":false},"axis":null}}},
{"data":{"name":"fit"},"transform":[{"fold":["e","f","g","h","i","p","q","r","s"],"as":["s","y"]}],
"mark":{"type":"line","interpolate":"monotone","color":"#111","strokeWidth":1.3},
"encoding":{
"x":{"field":"v","type":"quantitative","axis":{"orient":"top","values":[-8,-6,-4,-2,0,2,4,6,8],"labels":false,"ticks":true,"tickSize":-7,"tickWidth":1.6,"tickColor":"#000","title":null}},
"y":{"field":"y","type":"quantitative","axis":null},
"detail":{"field":"s"}}},
{"data":{"name":"lblL"},"transform":[{"filter":"datum.p === 'B'"}],
"mark":{"type":"text","align":"left","baseline":"middle","fontSize":23,"font":"Liberation Sans","color":"#111"},
"encoding":{"x":{"field":"v","type":"quantitative","axis":null},"y":{"field":"y","type":"quantitative","axis":null},"text":{"field":"t"}}},
{"data":{"name":"lblR"},"transform":[{"filter":"datum.p === 'B'"}],
"mark":{"type":"text","align":"right","baseline":"middle","fontSize":23,"font":"Liberation Sans","color":"#111"},
"encoding":{"x":{"field":"v","type":"quantitative","axis":null},"y":{"field":"y","type":"quantitative","axis":null},"text":{"field":"t"}}}
]
}
]
}
